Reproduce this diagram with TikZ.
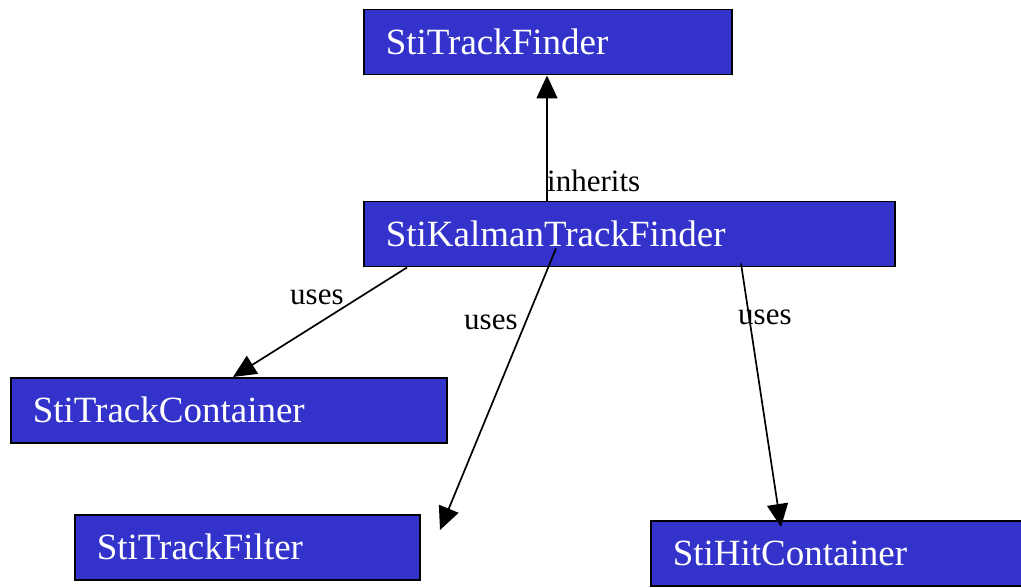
\documentclass[tikz,border=0pt]{standalone}
\usepackage{fontspec}
\setmainfont{Liberation Serif}
\usetikzlibrary{arrows.meta,calc}
\definecolor{clsblue}{HTML}{3333CC}
\begin{document}
\begin{tikzpicture}[x=1pt,y=-1pt,
  cls/.style={draw=black, line width=1.5pt, fill=clsblue, text=white,
    font=\fontsize{37}{40}\selectfont, anchor=north west,
    minimum height=65pt, inner xsep=22pt, inner ysep=0pt, align=left},
  rel/.style={line width=1.7pt, -{Triangle[length=23pt,width=21pt]}},
  lbl/.style={font=\fontsize{31}{34}\selectfont, inner sep=0pt, anchor=base west}]
\useasboundingbox (0,0) rectangle (1021,588);

% classes
\node[cls, text width=324pt] (finder) at (363,9)   {StiTrackFinder};
\node[cls, text width=487pt] (kalman) at (363,201) {StiKalmanTrackFinder};
\node[cls, text width=392pt] (tcont)  at (10,377)  {StiTrackContainer};
\node[cls, text width=301pt] (tfilt)  at (74,514)  {StiTrackFilter};
\node[cls, text width=327pt] (hcont)  at (650,520) {StiHitContainer};

% inheritance
\draw[rel] ($(kalman.north west)+(184,0)$) -- ($(finder.south west)+(184,0)$);
\node[lbl] (inh) at (547,192) {inherits};

% uses relations
\coordinate (filtertip) at (440,530);
\draw[rel] ($(kalman.south west)+(44,0)$) -- ($(tcont.north west)+(223,0)$);
\node[lbl] (u1) at (290,305) {uses};
\draw[rel] ($(kalman.south west)+(193,-19)$) -- (filtertip);
\node[lbl] (u2) at (464,330) {uses};
\draw[rel] ($(kalman.south west)+(378,-4)$) -- ($(hcont.north west)+(131,7)$);
\node[lbl] (u3) at (738,325) {uses};
\end{tikzpicture}
\end{document}
